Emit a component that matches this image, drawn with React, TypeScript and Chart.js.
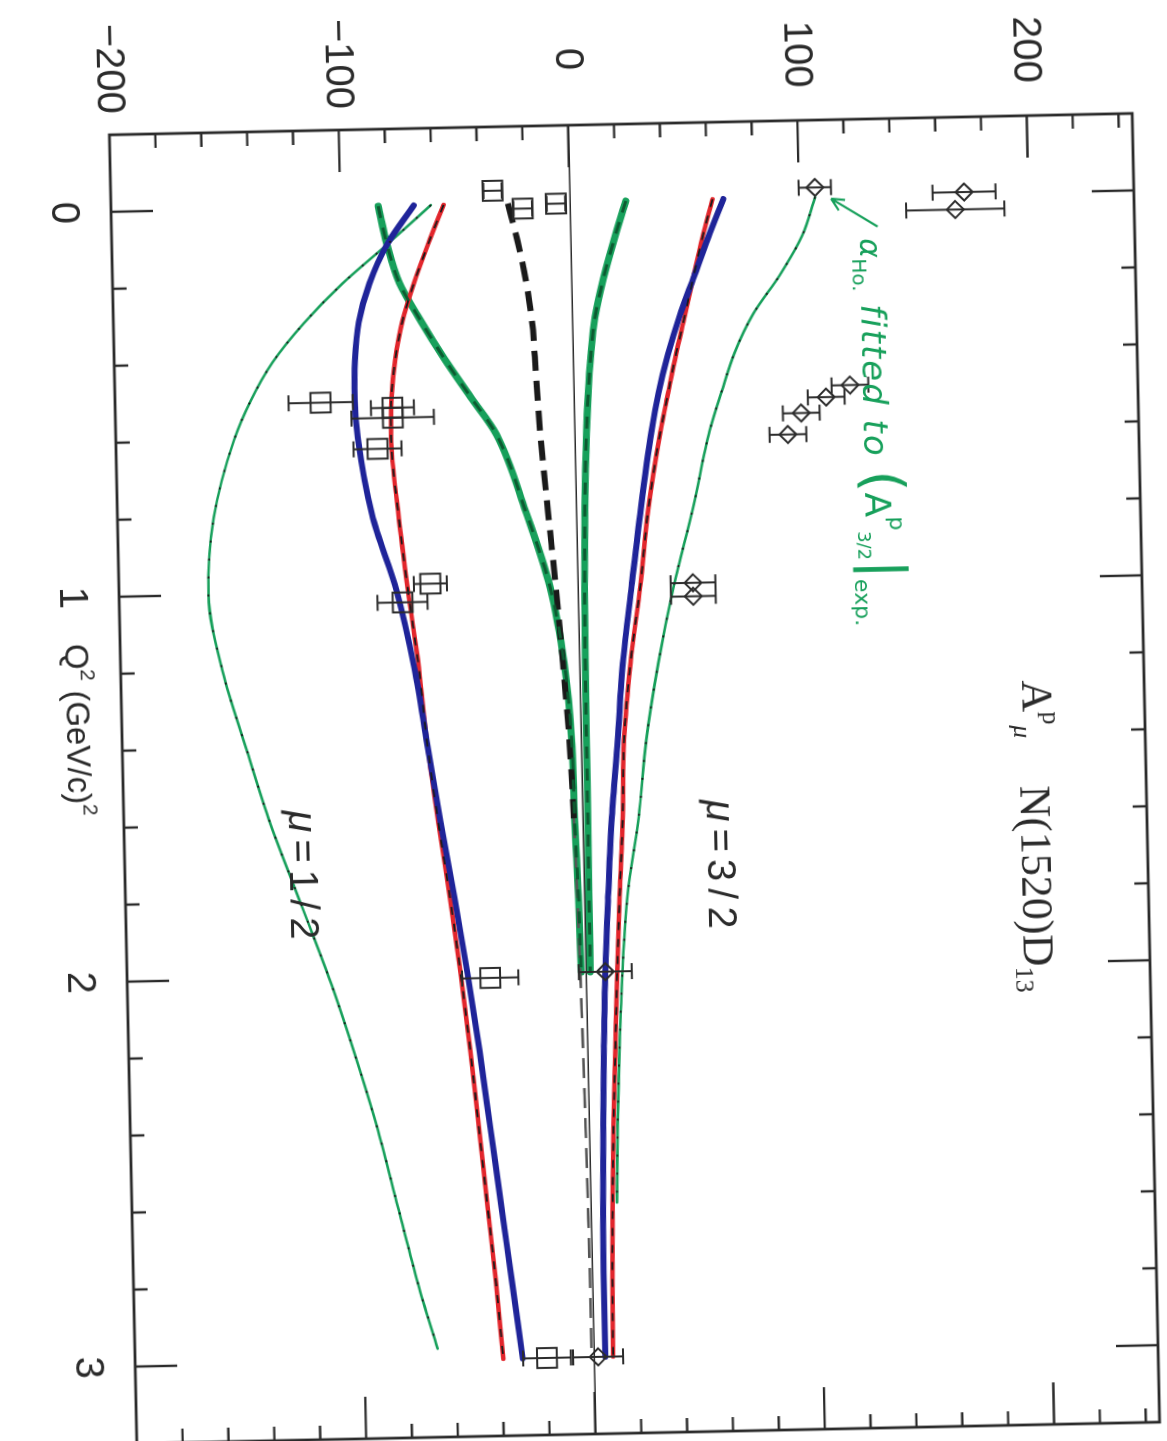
import React, { useEffect, useRef } from 'react';
import { Chart, registerables } from 'chart.js';

Chart.register(...registerables);

// ---------------- data (Q^2 in (GeV/c)^2, amplitudes in 10^-3 GeV^-1/2) ----------------
const Q_GRID = [0, 0.1, 0.2, 0.3, 0.4, 0.5, 0.6, 0.8, 1.0, 1.2, 1.4, 1.6, 1.8, 2.0, 2.2, 2.4, 2.6, 2.8, 3.0];
const Q_TO_2 = [0, 0.1, 0.2, 0.3, 0.4, 0.5, 0.6, 0.8, 1.0, 1.2, 1.4, 1.6, 1.8, 2.0];
const Q_TO_26 = [0, 0.1, 0.2, 0.3, 0.4, 0.5, 0.6, 0.8, 1.0, 1.2, 1.4, 1.6, 1.8, 2.0, 2.2, 2.4, 2.6];
const Q_FIT_12 = [0, 0.1, 0.2, 0.3, 0.4, 0.5, 0.6, 0.8, 1.0, 1.2, 1.4, 1.6, 1.8, 2.0, 2.2, 2.4, 2.6, 2.8, 2.97];

// mu = 3/2 curves
const RED_32 = [62.3, 57.5, 53.3, 49.2, 45, 41.2, 37.5, 31.5, 27.3, 22.3, 18.8, 17.5, 15.5, 13.7, 12.2, 10.7, 9.6, 8.8, 8.4];
const BLUE_32 = [67, 60, 53.5, 47, 41.5, 37, 33.6, 28.2, 23.5, 19, 16, 12.8, 10.5, 8.5, 7.2, 6.2, 5.4, 5, 5];
const GREEN_32 = [24.5, 19, 14, 10, 7.8, 6.3, 5.2, 3.8, 3, 2.6, 2.4, 2.3, 2.1, 2];
const FIT_32 = [107, 101, 91, 79, 70.5, 64.5, 59, 51, 42, 34.5, 28.5, 24.5, 19, 16, 14, 12.5, 11.5];

// mu = 1/2 curves
const RED_12 = [-55, -62, -68.5, -74, -77.5, -79.5, -80, -77.5, -74, -70, -67, -63, -58.5, -54.5, -51, -48, -45, -42, -39.5];
const BLUE_12 = [-68, -80, -88, -93, -95, -95.5, -94.5, -89, -79, -72, -67, -62, -56.5, -51.5, -47, -43, -39, -35, -31];
const GREEN_12 = [-83.5, -80, -75, -66, -56, -45, -34, -22, -12, -6.5, -4, -3.5, -2.5, -2];
const FIT_12 = [-60.5, -80, -100, -117, -131, -141, -148.5, -158, -161, -155.5, -146, -136, -124, -112, -101.5, -92, -84, -76, -68];
const DASH_12 = [-27, -23, -19.8, -17.6, -16.6, -15.8, -14.9, -12.3, -9.5, -7.1, -5, -3.8, -3, -2.4, -1.9, -1.5, -1.2, -1, -1];

// experimental points
const DIAMOND_Q = [-0.025, -0.005, 0.04, 0.49, 0.52, 0.56, 0.615, 0.995, 1.03, 2.0, 3.0];
const DIAMOND_V = [107, 172, 168, 120.5, 110, 99, 93, 50.3, 50.3, 8.5, 1.9];
const DIAMOND_ERR = [7, 13.7, 21.4, 8, 8, 8, 8, 9.8, 9.8, 11.6, 10.9];
const SQUARE_Q = [-0.034, 0.014, 0.003, 0.507, 0.524, 0.55, 0.63, 0.983, 1.03, 2.01, 3.0];
const SQUARE_V = [-33.5, -20.5, -6, -110.4, -79.1, -79.1, -86, -64.2, -76.5, -41.7, -20.4];
const SQUARE_ERR = [4, 4, 4, 14, 9.4, 18, 10.5, 7.2, 10.9, 12.3, 10.4];

// ticks
const Q_TICKS = [0, 1, 2, 3];
const Q_TICK_LABELS = ['0', '1', '2', '3'];
const V_TICKS = [-200, -100, 0, 100, 200];
const V_TICK_LABELS = ['\u2212200', '\u2212100', '0', '100', '200'];

// ---------------- styling / layout ----------------
const INK = '#2b2b2b';
const GREEN = '#17a05b';
const DARK_GREEN = '#0d5a31';
const RED = '#e2262c';
const BLUE = '#1f2499';
const W = 1649;
const H = 1343;
const AXIS_V_W = 170;
const AXIS_Q_H = 160;
const CENTER_X = 634.2;
const CENTER_Y = 778.1;
const TILT = 88.8;

type Part = { t: string; size: number; dy?: number; style?: string; family?: string; ls?: number };
type Note = { q: number; v: number; color: string; family: string; parts: Part[] };

const NOTES: Note[] = [
  {
    q: 1.266, v: 193, color: INK, family: 'Liberation Serif',
    parts: [{ t: 'A', size: 44 }, { t: 'p', size: 26, dy: -20 }, { t: '\u03bc', size: 26, dy: 9, style: 'italic' }],
  },
  {
    q: 1.54, v: 191, color: INK, family: 'Liberation Serif',
    parts: [{ t: 'N(1520)D', size: 44 }, { t: '13', size: 26, dy: 8 }],
  },
  {
    q: 1.56, v: 54, color: INK, family: 'Liberation Sans',
    parts: [{ t: '\u03bc', size: 40, style: 'italic', ls: 7 }, { t: '=3/2', size: 40, ls: 7 }],
  },
  {
    q: 1.565, v: -128, color: INK, family: 'Liberation Sans',
    parts: [{ t: '\u03bc', size: 40, style: 'italic', ls: 7 }, { t: '=1/2', size: 40, ls: 7 }],
  },
  {
    q: 0.11, v: 126, color: GREEN, family: 'DejaVu Sans',
    parts: [
      { t: '\u03b1', size: 30, style: 'italic' },
      { t: 'Ho.', size: 20, dy: 8 },
      { t: ' fitted to ', size: 34, style: 'italic', ls: 2 },
      { t: '(', size: 56 },
      { t: 'A', size: 36 },
      { t: 'p', size: 22, dy: -24 },
      { t: '3/2', size: 18, dy: 8 },
      { t: '|', size: 56 },
      { t: 'exp.', size: 22, dy: 12 },
    ],
  },
];
const ARROW_FROM = { q: 0.08, v: 134 };
const ARROW_TO = { q: 0.005, v: 114 };
const TITLE_Q = 1.12;
const TITLE_PARTS: Part[] = [
  { t: 'Q', size: 33 }, { t: '2', size: 21, dy: -15 }, { t: ' (GeV/c)', size: 33 }, { t: '2', size: 21, dy: -15 },
];

const pts = (qs: number[], vs: number[]) => qs.map((q, i) => ({ x: q, y: vs[i] }));

function curve(qs: number[], vs: number[], color: string, width: number, order: number, dash: number[] = [], extra: any = {}) {
  return {
    data: pts(qs, vs),
    borderColor: color,
    borderWidth: width,
    borderDash: dash,
    borderCapStyle: dash.length ? 'butt' : 'round',
    borderJoinStyle: 'round',
    pointRadius: 0,
    fill: false,
    cubicInterpolationMode: 'monotone',
    order,
    ...extra,
  };
}

function drawRich(ctx: CanvasRenderingContext2D, x: number, y: number, parts: Part[], color: string, family: string) {
  ctx.fillStyle = color;
  ctx.textBaseline = 'alphabetic';
  ctx.textAlign = 'left';
  for (const p of parts) {
    ctx.font = `${p.style ?? ''} ${p.size}px "${p.family ?? family}"`;
    (ctx as any).letterSpacing = `${p.ls ?? 0}px`;
    ctx.fillText(p.t, x, y + (p.dy ?? 0));
    x += ctx.measureText(p.t).width;
  }
  (ctx as any).letterSpacing = '0px';
}

const framePlugin = {
  id: 'frameTicks',
  afterDatasetsDraw(chart: any) {
    const { ctx, chartArea: a, scales } = chart;
    const xs = scales.x;
    const ys = scales.y;
    ctx.save();
    ctx.strokeStyle = INK;
    ctx.lineWidth = 2.8;
    ctx.strokeRect(a.left, a.top, a.right - a.left, a.bottom - a.top);
    ctx.lineWidth = 2.4;
    ctx.beginPath();
    for (let k = 0; k < 16; k++) {
      const q = -0.2 + 0.2 * (k + 1);
      if (q > 3.19) break;
      const major = Math.abs(q - Math.round(q)) < 1e-6;
      const len = major ? 42 : 14;
      const px = xs.getPixelForValue(q);
      ctx.moveTo(px, a.bottom); ctx.lineTo(px, a.bottom - len);
      ctx.moveTo(px, a.top); ctx.lineTo(px, a.top + len);
    }
    for (let k = -9; k <= 12; k++) {
      const v = 20 * k;
      const major = v % 100 === 0;
      const len = major ? 42 : 14;
      const py = ys.getPixelForValue(v);
      ctx.moveTo(a.left, py); ctx.lineTo(a.left + len, py);
      ctx.moveTo(a.right, py); ctx.lineTo(a.right - len, py);
    }
    ctx.stroke();
    ctx.restore();
  },
};

const errorBarPlugin = {
  id: 'errorBars',
  afterDatasetsDraw(chart: any) {
    const { ctx, scales } = chart;
    const xs = scales.x;
    const ys = scales.y;
    ctx.save();
    ctx.strokeStyle = INK;
    ctx.lineWidth = 2;
    const sets = [
      { q: DIAMOND_Q, v: DIAMOND_V, e: DIAMOND_ERR },
      { q: SQUARE_Q, v: SQUARE_V, e: SQUARE_ERR },
    ];
    ctx.beginPath();
    for (const s of sets) {
      s.q.forEach((q, i) => {
        const px = xs.getPixelForValue(q);
        const lo = ys.getPixelForValue(s.v[i] - s.e[i]);
        const hi = ys.getPixelForValue(s.v[i] + s.e[i]);
        ctx.moveTo(px, lo); ctx.lineTo(px, hi);
        ctx.moveTo(px - 8, lo); ctx.lineTo(px + 8, lo);
        ctx.moveTo(px - 8, hi); ctx.lineTo(px + 8, hi);
      });
    }
    ctx.stroke();
    ctx.restore();
  },
};

const notesPlugin = {
  id: 'notes',
  afterDraw(chart: any) {
    const { ctx, chartArea: a, scales } = chart;
    const xs = scales.x;
    const ys = scales.y;
    ctx.save();
    for (const n of NOTES) {
      drawRich(ctx, xs.getPixelForValue(n.q), ys.getPixelForValue(n.v), n.parts, n.color, n.family);
    }
    // axis title, on the same row as the tick labels
    drawRich(ctx, xs.getPixelForValue(TITLE_Q), a.bottom + 55, TITLE_PARTS, INK, 'Liberation Sans');
    // green arrow
    const x1 = xs.getPixelForValue(ARROW_FROM.q);
    const y1 = ys.getPixelForValue(ARROW_FROM.v);
    const x2 = xs.getPixelForValue(ARROW_TO.q);
    const y2 = ys.getPixelForValue(ARROW_TO.v);
    const ang = Math.atan2(y2 - y1, x2 - x1);
    ctx.strokeStyle = GREEN;
    ctx.lineWidth = 2.2;
    ctx.beginPath();
    ctx.moveTo(x1, y1); ctx.lineTo(x2, y2);
    ctx.moveTo(x2, y2); ctx.lineTo(x2 - 14 * Math.cos(ang - 0.45), y2 - 14 * Math.sin(ang - 0.45));
    ctx.moveTo(x2, y2); ctx.lineTo(x2 - 14 * Math.cos(ang + 0.45), y2 - 14 * Math.sin(ang + 0.45));
    ctx.stroke();
    ctx.restore();
  },
};

export default function App() {
  const ref = useRef<HTMLCanvasElement>(null);

  useEffect(() => {
    if (!ref.current) return;
    const datasets: any[] = [
      {
        data: pts(DIAMOND_Q, DIAMOND_V), showLine: false, pointStyle: 'rectRot', pointRadius: 8.5,
        pointBorderColor: INK, pointBackgroundColor: 'rgba(255,255,255,0)', pointBorderWidth: 2, order: 0,
      },
      {
        data: pts(SQUARE_Q, SQUARE_V), showLine: false, pointStyle: 'rect', pointRadius: 14,
        pointBorderColor: INK, pointBackgroundColor: 'rgba(255,255,255,0)', pointBorderWidth: 2, order: 0,
      },
      // dark overlays
      curve(Q_GRID, RED_32, '#1a1a1a', 1.8, 1, [8, 9]),
      curve(Q_GRID, RED_12, '#1a1a1a', 1.8, 1, [8, 9]),
      curve(Q_TO_2, GREEN_32, DARK_GREEN, 3, 1, [12, 10]),
      curve(Q_TO_2, GREEN_12, DARK_GREEN, 3, 1, [12, 10]),
      curve(Q_TO_26, FIT_32, '#1a1a1a', 1.8, 1, [2, 16]),
      curve(Q_FIT_12, FIT_12, '#1a1a1a', 1.8, 1, [2, 16]),
      // coloured curves
      curve(Q_GRID, BLUE_32, BLUE, 6, 2),
      curve(Q_GRID, BLUE_12, BLUE, 6, 2),
      curve(Q_GRID, RED_32, RED, 4.5, 3),
      curve(Q_GRID, RED_12, RED, 4.5, 3),
      curve(Q_GRID, DASH_12, '#1a1a1a', 6, 3, [20, 10], {
        segment: {
          borderWidth: (c: any) => (c.p0.parsed.x >= 1.6 ? 2.6 : 6),
          borderColor: (c: any) => (c.p0.parsed.x >= 1.6 ? '#555555' : '#1a1a1a'),
        },
      }),
      curve(Q_TO_2, GREEN_32, GREEN, 7, 4),
      curve(Q_TO_2, GREEN_12, GREEN, 7, 4),
      curve(Q_TO_26, FIT_32, GREEN, 2.6, 5),
      curve(Q_FIT_12, FIT_12, GREEN, 2.6, 5),
    ];

    const chart = new Chart(ref.current, {
      type: 'line',
      data: { datasets },
      options: {
        responsive: false,
        animation: false,
        devicePixelRatio: 1,
        layout: { padding: { top: AXIS_Q_H, right: AXIS_V_W, left: 0, bottom: 0 } },
        plugins: { legend: { display: false }, tooltip: { enabled: false } },
        scales: {
          x: {
            type: 'linear',
            min: -0.2,
            max: 3.2,
            position: 'bottom',
            afterBuildTicks: (s: any) => { s.ticks = Q_TICKS.map((value) => ({ value })); },
            afterFit: (s: any) => { s.height = AXIS_Q_H; },
            ticks: {
              callback: (_v: any, i: number) => Q_TICK_LABELS[i],
              font: { family: 'Liberation Sans', size: 40 },
              color: INK,
              padding: 16,
              maxRotation: 0,
              autoSkip: false,
            },
            grid: { display: false },
            border: { display: false },
          },
          y: {
            type: 'linear',
            min: -200,
            max: 246,
            afterBuildTicks: (s: any) => { s.ticks = V_TICKS.map((value) => ({ value })); },
            afterFit: (s: any) => { s.width = AXIS_V_W; },
            ticks: {
              callback: (_v: any, i: number) => V_TICK_LABELS[i],
              font: { family: 'Liberation Sans', size: 40 },
              color: INK,
              padding: 21,
              crossAlign: 'center',
              autoSkip: false,
            },
            grid: {
              drawTicks: false,
              lineWidth: 1.6,
              color: (c: any) => (c.tick && c.tick.value === 0 ? INK : 'rgba(0,0,0,0)'),
            },
            border: { display: false },
          },
        },
      } as any,
      plugins: [framePlugin, errorBarPlugin, notesPlugin],
    });
    return () => chart.destroy();
  }, []);

  return (
    <div style={{ position: 'absolute', left: 0, top: 0, width: 1167, height: 1441, overflow: 'hidden', background: '#ffffff' }}>
      <div
        style={{
          position: 'absolute',
          left: CENTER_X - W / 2,
          top: CENTER_Y - H / 2,
          width: W,
          height: H,
          transform: `rotate(${TILT}deg)`,
          transformOrigin: '50% 50%',
        }}
      >
        <canvas ref={ref} width={W} height={H} style={{ width: W, height: H, display: 'block' }} />
      </div>
    </div>
  );
}
